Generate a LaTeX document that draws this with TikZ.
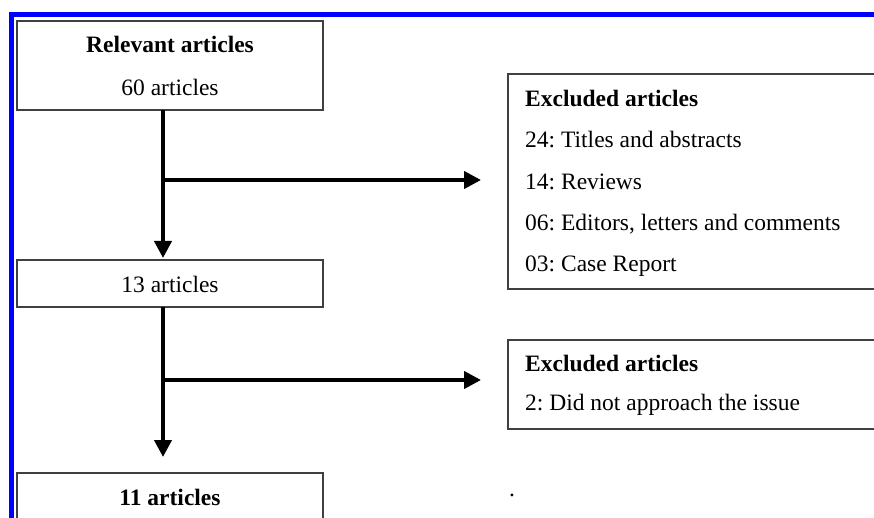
\documentclass[tikz,border=0pt]{standalone}
\usepackage{fontspec}
\setmainfont{Liberation Serif}
\usetikzlibrary{arrows.meta}
\frenchspacing
\begin{document}
\begin{tikzpicture}[x=1pt,y=-1pt,
  box/.style={draw=black!75,line width=1.8pt,fill=white,inner sep=0pt},
  txt/.style={inner sep=0pt,font=\fontsize{23.5}{28}\selectfont},
  ltxt/.style={txt,anchor=west},
  flow/.style={line width=4pt,-{Triangle[width=17pt,length=17pt]}},
  branch/.style={line width=4pt}]
\useasboundingbox (0,0) rectangle (874,518);
\fill[white] (0,0) rectangle (874,518);
\begin{scope}
\clip (0,0) rectangle (874,518);
% blue frame
\draw[blue,line width=5pt] (11,530) -- (11,15) -- (890,15);
% boxes
\node[box,minimum width=306pt,minimum height=89pt] (b1) at (170,65.5) {};
\node[box,minimum width=306pt,minimum height=47pt] (b2) at (170,283.5) {};
\node[box,minimum width=306pt,minimum height=60pt] (b3) at (170,503) {};
\node[box,minimum width=382pt,minimum height=215pt] (e1) at (699,181.5) {};
\node[box,minimum width=382pt,minimum height=89pt] (e2) at (699,384.5) {};
% texts
\node[txt,font=\fontsize{23.5}{28}\selectfont\bfseries] (t1) at (170,44) {Relevant articles};
\node[txt] (t2) at (170,87) {60 articles};
\node[txt] (t3) at (170,284) {13 articles};
\node[txt,font=\fontsize{23.5}{28}\selectfont\bfseries] (t4) at (170,497) {11 articles};
\node[ltxt,font=\fontsize{23.5}{28}\selectfont\bfseries] (x1) at (525,98) {Excluded articles};
\node[ltxt] (x2) at (525,139.5) {24: Titles and abstracts};
\node[ltxt] (x3) at (525,182) {14: Reviews};
\node[ltxt] (x4) at (525,224) {06: Editors, letters and comments};
\node[ltxt] (x5) at (525,266) {03: Case Report};
\node[ltxt,font=\fontsize{23.5}{28}\selectfont\bfseries] (y1) at (525,363) {Excluded articles};
\node[ltxt] (y2) at (525,405) {2: Did not approach the issue};
\node[txt] (dot) at (512,495) {.};
% connectors
\coordinate (s1) at (163,110);
\coordinate (j1) at (163,180);
\coordinate (a1) at (163,258);
\coordinate (h1) at (481,180);
\coordinate (s2) at (163,307);
\coordinate (j2) at (163,380);
\coordinate (a2) at (163,457);
\coordinate (h2) at (481,380);
\draw[flow] (s1) -- (a1);
\draw[flow] (j1) -- (h1);
\draw[flow] (s2) -- (a2);
\draw[flow] (j2) -- (h2);
\end{scope}
\end{tikzpicture}
\end{document}
